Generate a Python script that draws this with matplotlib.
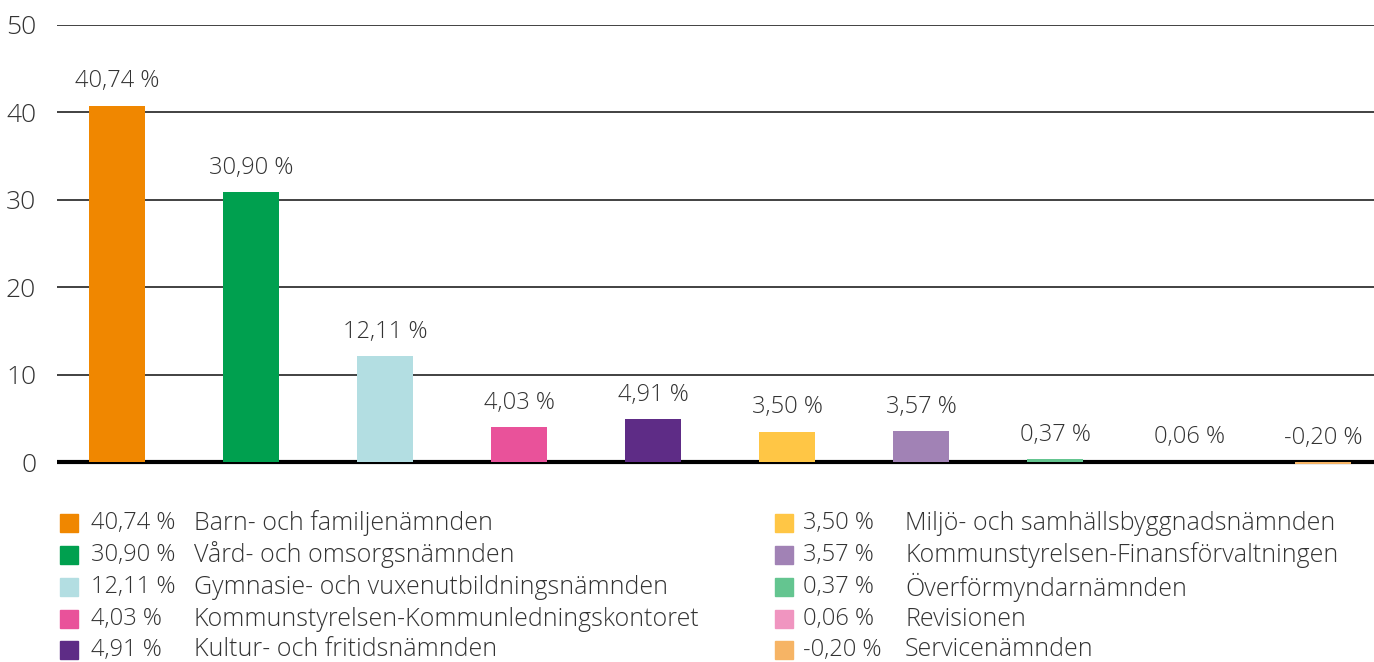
import matplotlib
matplotlib.use("Agg")
import matplotlib.pyplot as plt
from matplotlib.patches import Rectangle

plt.rcParams["font.family"] = ["Open Sans", "DejaVu Sans"]
plt.rcParams["font.weight"] = "light"

# data
names = ["Barn- och familjenämnden", "Vård- och omsorgsnämnden",
         "Gymnasie- och vuxenutbildningsnämnden",
         "Kommunstyrelsen-Kommunledningskontoret", "Kultur- och fritidsnämnden",
         "Miljö- och samhällsbyggnadsnämnden",
         "Kommunstyrelsen-Finansförvaltningen", "Överförmyndarnämnden",
         "Revisionen", "Servicenämnden"]
values = [40.74, 30.90, 12.11, 4.03, 4.91, 3.50, 3.57, 0.37, 0.06, -0.20]
colors = ["#F08700", "#00A04F", "#B3DEE2", "#E9529A", "#5E2C86",
          "#FFC645", "#A182B5", "#64C590", "#F095C0", "#F6B465"]
yticks = [0, 10, 20, 30, 40, 50]

def fmt(v):
    return "{:.2f} %".format(v).replace(".", ",")

W, H = 1374, 662
fig = plt.figure(figsize=(W / 100, H / 100), dpi=100)
ax = fig.add_axes([57 / W, 1 - 471 / H, 1 - 57 / W, (471 - 25) / H])

x = list(range(len(values)))
ax.bar(x, values, width=0.42, color=colors, zorder=3)
for xi, v in zip(x, values):
    ax.annotate(fmt(v), (xi, max(v, 0)), xytext=(0, 9), textcoords="offset points",
                ha="center", va="bottom", fontsize=17, color="#333333")

ax.set_xlim(-0.448, 9.38)
ax.set_ylim(-1, 50)
for t in yticks[1:]:
    ax.axhline(t, color="#333333", lw=1.3, zorder=1)
ax.axhline(0, color="black", lw=3, zorder=2)
ax.set_yticks(yticks)
ax.set_yticklabels([str(t) for t in yticks], fontsize=19, color="#333333")
ax.tick_params(axis="y", length=0, pad=15)
ax.set_xticks([])
for s in ax.spines.values():
    s.set_visible(False)

# legend, two columns of five
row_y = [523, 555, 587, 619, 650]
col = [(60, 91, 194), (775, 803, 905)]
for i, (n, v, c) in enumerate(zip(names, values, colors)):
    sx, px, nx = col[i // 5]
    y = row_y[i % 5]
    fig.patches.append(Rectangle((sx / W, 1 - (y + 9) / H), 18 / W, 18 / H,
                                 transform=fig.transFigure, color=c))
    fig.text(px / W, 1 - y / H, fmt(v), ha="left", va="center", fontsize=17,
             color="#333333")
    fig.text(nx / W, 1 - y / H, n, ha="left", va="center", fontsize=18,
             color="#333333")

fig.savefig("out.png", dpi=100)
